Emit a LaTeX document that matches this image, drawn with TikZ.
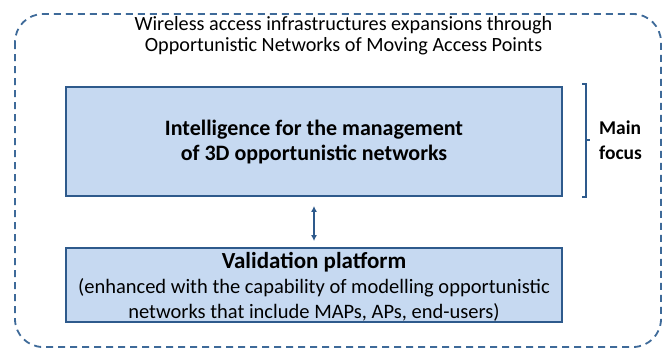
\documentclass[tikz,border=0pt]{standalone}
\usepackage{fontspec}
\setmainfont{Carlito}
\usetikzlibrary{arrows.meta}
\begin{document}
\begin{tikzpicture}[x=1pt,y=-1pt,
  blk/.style={draw=boxline, fill=boxfill, line width=1.8pt, inner sep=0pt, minimum width=496pt},
  txt/.style={align=center, inner sep=0pt},
]
\definecolor{boxfill}{HTML}{C6D9F1}
\definecolor{boxline}{HTML}{2E5A8C}
\definecolor{dashc}{HTML}{3E6A99}
\useasboundingbox (0,0) rectangle (662,349);
\draw[dashc, line width=1.8pt, dash pattern=on 7pt off 5pt, rounded corners=28pt] (15,14) rectangle (661,347);
\node[txt, font=\fontsize{20.2}{21.5}\selectfont] (title) at (343.5,35.5) {Wireless access infrastructures expansions through\\Opportunistic Networks of Moving Access Points};
\node[blk, minimum height=109pt] (box1) at (314,141.5) {};
\node[txt, font=\fontsize{22}{25}\selectfont\bfseries] (intel) at (314,142.5) {Intelligence for the management\\of 3D opportunistic networks};
\node[blk, minimum height=74pt] (box2) at (314,285) {};
\node[txt, font=\fontsize{23}{25}\selectfont\bfseries] (valid) at (314,262) {Validation platform};
\node[txt, font=\fontsize{20.5}{25}\selectfont] (valsub) at (314,299.5) {(enhanced with the capability of modelling opportunistic\\networks that include MAPs, APs, end-users)};
\draw[boxline, line width=1.4pt, {Latex[length=6pt,width=6pt]}-{Latex[length=6pt,width=6pt]}, shorten <=9pt, shorten >=6pt] (box1.south) -- (box2.north);
\draw[boxline, line width=1.5pt] (582,84) -- (586,84) -- (586,140) -- (590,140) (586,140) -- (586,197) -- (582,197);
\node[inner sep=0pt, align=left, anchor=west, font=\fontsize{19.5}{25}\selectfont\bfseries] (focus) at (599,140.5) {Main\\focus};
\end{tikzpicture}
\end{document}
